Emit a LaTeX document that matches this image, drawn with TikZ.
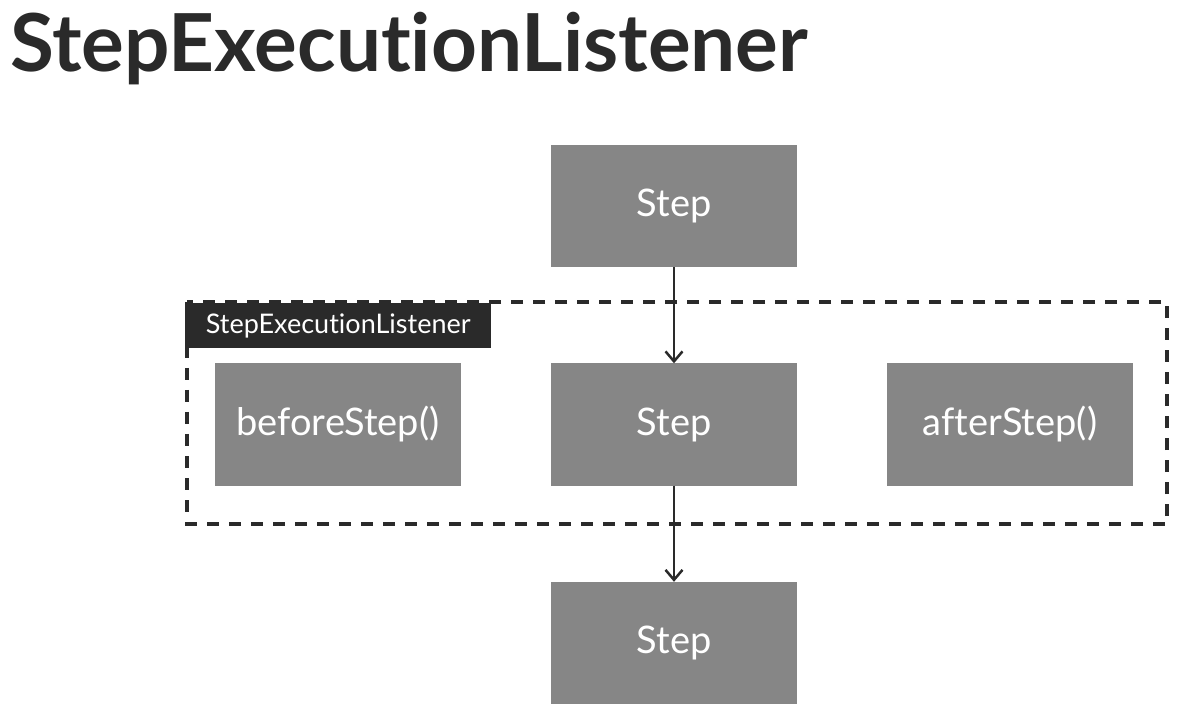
\documentclass[tikz,border=0pt]{standalone}
\usepackage{fontspec}
\setmainfont{Lato}[Ligatures=NoCommon]
\usetikzlibrary{arrows.meta}
\definecolor{boxgray}{HTML}{868686}
\definecolor{ink}{HTML}{2A2A2A}
\tikzset{
  stepbox/.style={fill=boxgray, draw=none, minimum width=246pt, minimum height=122pt, inner sep=0pt, text=white, font=\fontsize{38}{38}\selectfont},
  flow/.style={draw=ink, line width=2.5pt, -{Straight Barb[length=10pt,width=17pt,line width=2.5pt]}},
  frame/.style={draw=ink, line width=4pt, dash pattern=on 12pt off 10pt},
  tag/.style={fill=ink, text=white, inner sep=0pt, minimum width=306pt, minimum height=45pt, font=\fontsize{27}{27}\selectfont},
}
\begin{document}
\begin{tikzpicture}[x=1pt,y=1pt]
\useasboundingbox (0,0) rectangle (1179,-711);
\fill[white] (0,0) rectangle (1179,-711);
\node[anchor=base west, inner sep=0pt, text=ink, font=\fontsize{80}{80}\selectfont\bfseries] (title) at (10,-72) {StepExecutionListener};
\draw[frame] (187,-302) rectangle (1167,-524);
\node[tag, anchor=north west] (tag) at (185,-303) {StepExecutionListener};
\node[stepbox] (s1) at (674,-206) {Step};
\node[stepbox] (s2) at (674,-424.5) {Step};
\node[stepbox] (before) at (338,-424.5) {beforeStep()};
\node[stepbox] (after) at (1010,-424.5) {afterStep()};
\node[stepbox] (s3) at (674,-643) {Step};
\draw[flow] (s1.south) -- (s2.north);
\draw[flow] (s2.south) -- (s3.north);
\end{tikzpicture}
\end{document}
